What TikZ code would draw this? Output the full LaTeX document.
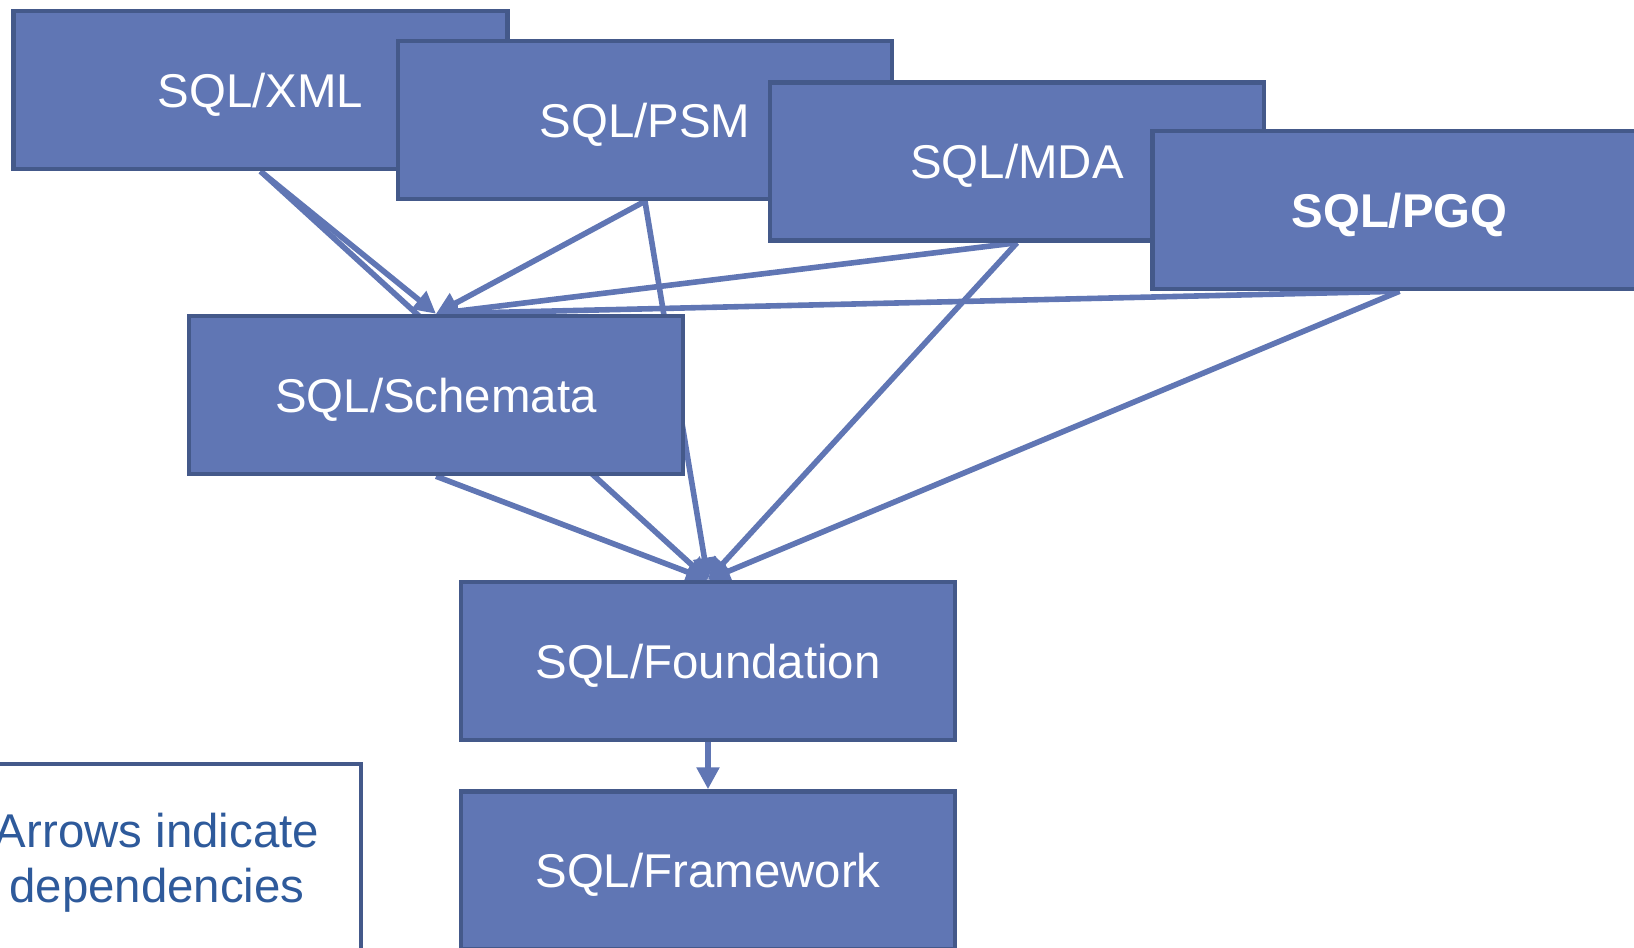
\documentclass[tikz,border=0pt]{standalone}
\usepackage{fontspec}
\setmainfont{Liberation Sans}
\usetikzlibrary{positioning}
\usetikzlibrary{arrows.meta}
\usetikzlibrary{backgrounds}

\definecolor{partfill}{RGB}{96,118,180}
\definecolor{partline}{RGB}{68,89,138}
\definecolor{notetext}{RGB}{46,90,155}

\begin{document}
\begin{tikzpicture}[x=0.5pt, y=-0.5pt,
    part/.style={draw=partline, fill=partfill, line width=2.25pt, minimum width=247pt, minimum height=79pt,
                 text height=17pt, text depth=0pt, text=white, font=\fontsize{23.7}{27.5}\selectfont},
    dep/.style={draw=partfill, line width=2.8pt, -{Triangle[length=11pt,width=11pt]}}]
        \useasboundingbox (0,0) rectangle (1634,948);

        \node[part] (xml) at (260.5,90) {SQL/XML};
        \node[part] (psm) at (645,120) {SQL/PSM};
        \node[part] (mda) at (1017,161.5) {SQL/MDA};
        \node[part] (pgq) at (1399.5,210) {\textbf{SQL/PGQ}};
        \node[part] (schem) at (436,395) {SQL/Schemata};
        \node[part] (found) at (708,661) {SQL/Foundation};
        \node[part, below=23.5pt of found] (frame) {SQL/Framework};
        \node[draw=partline, fill=white, line width=2.25pt, minimum width=204pt, minimum height=99pt,
              align=center, text=notetext, font=\fontsize{23.7}{27.5}\selectfont] (note) at (157,863)
              {Arrows indicate\\dependencies};

        \begin{pgfonlayer}{background}
        \draw
        (xml.south) edge[dep] (schem.north)
        (xml.south) edge[dep] (found.north)
        (psm.south) edge[dep] (schem.north)
        (psm.south) edge[dep] (found.north)
        (mda.south) edge[dep] (schem.north)
        (mda.south) edge[dep] (found.north)
        (pgq.south) edge[dep] (schem.north)
        (pgq.south) edge[dep] (found.north)
        (schem.south) edge[dep] (found.north);
        \end{pgfonlayer}
        \draw (found.south) edge[dep] (frame.north);
      \end{tikzpicture}
\end{document}
